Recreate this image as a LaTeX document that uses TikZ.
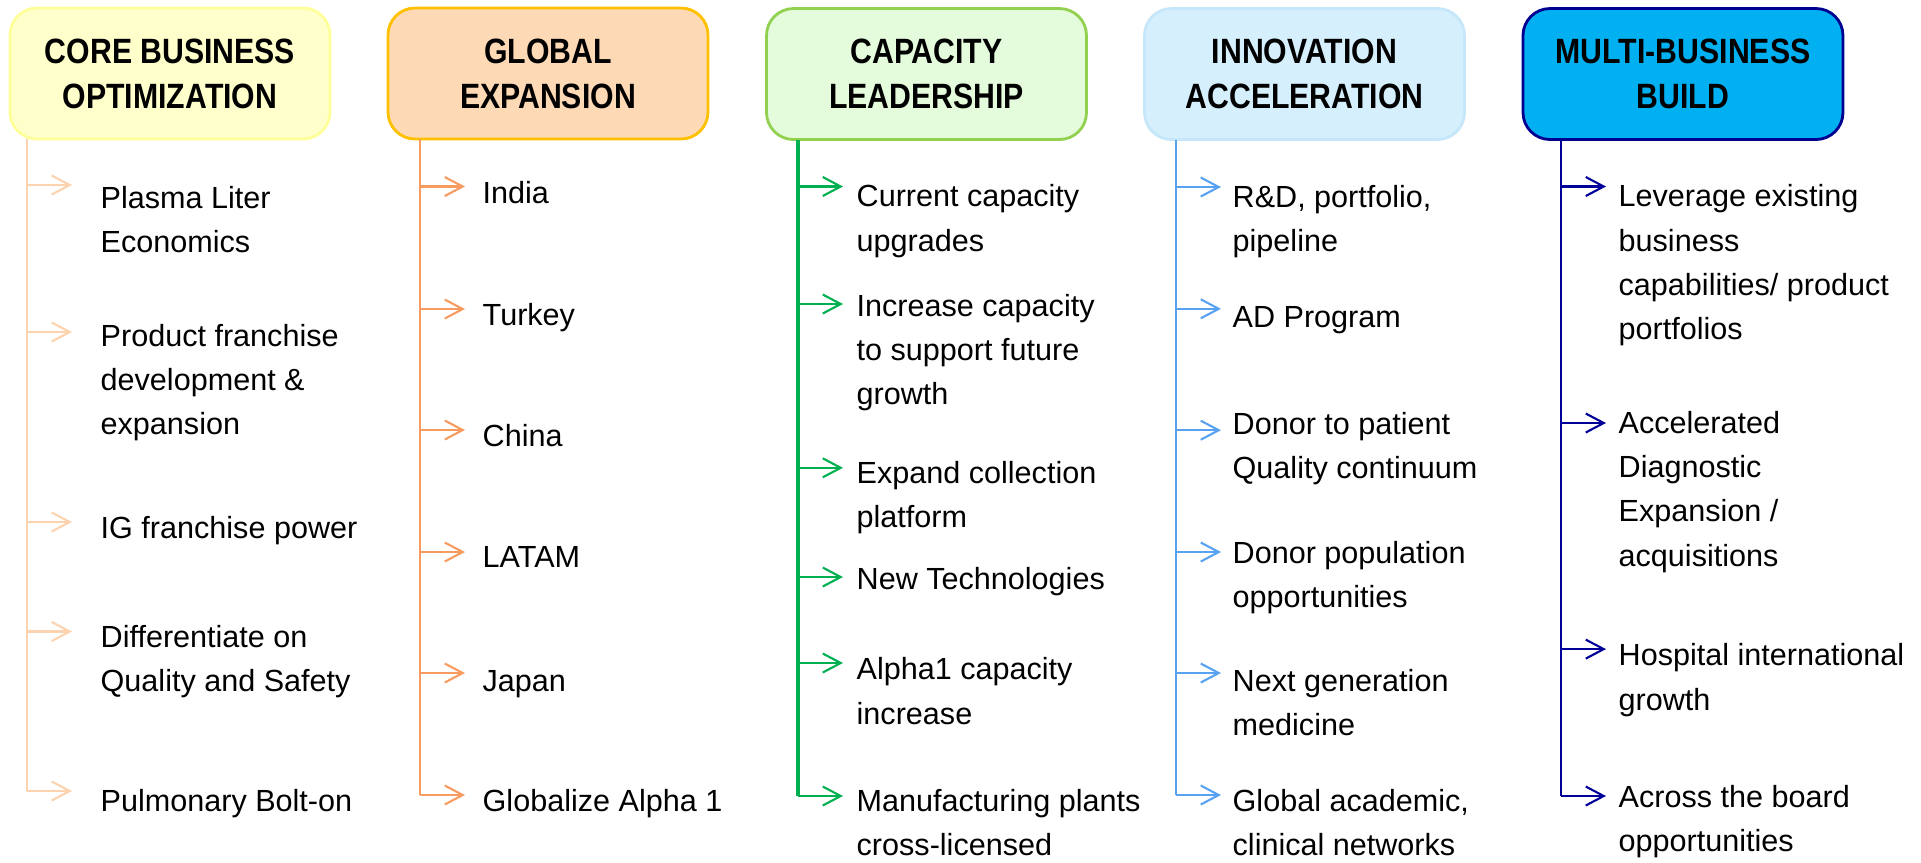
\documentclass[tikz,border=0pt]{standalone}
\usepackage{fontspec}
\setmainfont{Liberation Sans}
\newfontfamily\headfam[FakeStretch=0.86]{Liberation Sans}
\usetikzlibrary{arrows.meta}

\definecolor{coreFill}{HTML}{FFFFCC}
\definecolor{coreDraw}{HTML}{FFFF99}
\definecolor{coreLine}{HTML}{FCD3AE}
\definecolor{globFill}{HTML}{FDD9B5}
\definecolor{globDraw}{HTML}{FFC000}
\definecolor{globLine}{HTML}{F89B60}
\definecolor{capFill}{HTML}{E4FBDC}
\definecolor{capDraw}{HTML}{92D050}
\definecolor{capLine}{HTML}{00B050}
\definecolor{innoFill}{HTML}{D5EFFC}
\definecolor{innoDraw}{HTML}{C5E7F9}
\definecolor{innoLine}{HTML}{58A2F1}
\definecolor{multiFill}{HTML}{00B0F0}
\definecolor{multiDraw}{HTML}{000090}
\definecolor{multiLine}{HTML}{000099}

\newcommand{\headfont}{\headfam\bfseries\fontsize{10}{12.8}\selectfont}
\newcommand{\itemfont}{\fontsize{8.7}{12.6}\selectfont}
\newcommand{\itemstrut}{\rule{0pt}{2.85mm}}

\begin{document}
\begin{tikzpicture}[
    head/.style={draw, line width=0.8pt, rounded corners=0.27cm, minimum width=3.2cm, minimum height=1.31cm, inner sep=0pt, align=center, font=\headfont},
    item/.style={anchor=north west, inner sep=0pt, align=left, font=\itemfont},
    tip/.style={-{Straight Barb[length=1.8mm,width=1.9mm]}},
    trunkcore/.style={draw=coreLine, line width=0.6pt},
    trunkglob/.style={draw=globLine, line width=0.6pt},
    trunkcap/.style={draw=capLine, line width=0.6pt},
    trunkinno/.style={draw=innoLine, line width=0.6pt},
    trunkmulti/.style={draw=multiLine, line width=0.6pt}]
    \useasboundingbox (0,0) rectangle (19.21,-8.62);

    \node[head, fill=coreFill, draw=coreDraw] (core) at (1.70,-0.735) {CORE BUSINESS\\OPTIMIZATION};
    \node[head, fill=globFill, draw=globDraw] (glob) at (5.48,-0.735) {GLOBAL\\EXPANSION};
    \node[head, fill=capFill, draw=capDraw] (cap) at (9.265,-0.74) {CAPACITY\\LEADERSHIP};
    \node[head, fill=innoFill, draw=innoDraw] (inno) at (13.045,-0.74) {INNOVATION\\ACCELERATION};
    \node[head, fill=multiFill, draw=multiDraw] (multi) at (16.83,-0.74) {MULTI-BUSINESS\\BUILD};

    \coordinate (tcore) at (0.27,-1.39);
    \coordinate (tglob) at (4.20,-1.39);
    \coordinate (tcap) at (7.98,-1.40);
    \coordinate (tinno) at (11.76,-1.40);
    \coordinate (tmulti) at (15.61,-1.40);

    \draw[trunkcore] (tcore) -- ++(0,-6.52);
    \draw[trunkglob] (tglob) -- ++(0,-6.56);
    \draw[trunkcap, line width=0.9pt] (tcap) -- ++(0,-6.56);
    \draw[trunkinno] (tinno) -- ++(0,-6.55);
    \draw[trunkmulti] (tmulti) -- ++(0,-6.56);

    \node[item] (core1) at (1.00,-1.79) {\itemstrut Plasma Liter\\Economics};
    \node[item] (core2) at (1.00,-3.17) {\itemstrut Product franchise\\development \&\\expansion};
    \node[item] (core3) at (1.00,-5.09) {\itemstrut IG franchise power};
    \node[item] (core4) at (1.00,-6.18) {\itemstrut Differentiate on\\Quality and Safety};
    \node[item] (core5) at (1.00,-7.82) {\itemstrut Pulmonary Bolt-on};
    \draw[trunkcore, tip] (tcore |- core1.north) ++(0,-0.06) -- ++(0.45,0);
    \draw[trunkcore, tip] (tcore |- core2.north) ++(0,-0.15) -- ++(0.45,0);
    \draw[trunkcore, tip] (tcore |- core3.north) ++(0,-0.13) -- ++(0.45,0);
    \draw[trunkcore, tip] (tcore |- core4.north) ++(0,-0.135) -- ++(0.45,0);
    \draw[trunkcore, tip] (tcore |- core5.north) ++(0,-0.09) -- ++(0.45,0);

    \node[item] (glob1) at (4.82,-1.74) {\itemstrut India};
    \node[item] (glob2) at (4.82,-2.96) {\itemstrut Turkey};
    \node[item] (glob3) at (4.82,-4.17) {\itemstrut China};
    \node[item] (glob4) at (4.82,-5.385) {\itemstrut LATAM};
    \node[item] (glob5) at (4.82,-6.62) {\itemstrut Japan};
    \node[item] (glob6) at (4.82,-7.82) {\itemstrut Globalize Alpha 1};
    \draw[trunkglob, tip] (tglob |- glob1.north) ++(0,-0.125) -- ++(0.45,0);
    \draw[trunkglob, tip] (tglob |- glob2.north) ++(0,-0.13) -- ++(0.45,0);
    \draw[trunkglob, tip] (tglob |- glob3.north) ++(0,-0.13) -- ++(0.45,0);
    \draw[trunkglob, tip] (tglob |- glob4.north) ++(0,-0.135) -- ++(0.45,0);
    \draw[trunkglob, tip] (tglob |- glob5.north) ++(0,-0.11) -- ++(0.45,0);
    \draw[trunkglob, tip] (tglob |- glob6.north) ++(0,-0.13) -- ++(0.45,0);

    \node[item] (cap1) at (8.56,-1.775) {\itemstrut Current capacity\\upgrades};
    \node[item] (cap2) at (8.56,-2.87) {\itemstrut Increase capacity\\to support future\\growth};
    \node[item] (cap3) at (8.56,-4.538) {\itemstrut Expand collection\\platform};
    \node[item] (cap4) at (8.56,-5.60) {\itemstrut New Technologies};
    \node[item] (cap5) at (8.56,-6.505) {\itemstrut Alpha1 capacity\\increase};
    \node[item] (cap6) at (8.56,-7.824) {\itemstrut Manufacturing plants\\cross-licensed};
    \draw[trunkcap, tip] (tcap |- cap1.north) ++(0,-0.09) -- ++(0.45,0);
    \draw[trunkcap, tip] (tcap |- cap2.north) ++(0,-0.17) -- ++(0.45,0);
    \draw[trunkcap, tip] (tcap |- cap3.north) ++(0,-0.14) -- ++(0.45,0);
    \draw[trunkcap, tip] (tcap |- cap4.north) ++(0,-0.17) -- ++(0.45,0);
    \draw[trunkcap, tip] (tcap |- cap5.north) ++(0,-0.125) -- ++(0.45,0);
    \draw[trunkcap, tip] (tcap |- cap6.north) ++(0,-0.136) -- ++(0.45,0);

    \node[item] (inno1) at (12.32,-1.78) {\itemstrut R\&D, portfolio,\\pipeline};
    \node[item] (inno2) at (12.32,-2.978) {\itemstrut AD Program};
    \node[item] (inno3) at (12.32,-4.052) {\itemstrut Donor to patient\\Quality continuum};
    \node[item] (inno4) at (12.32,-5.34) {\itemstrut Donor population\\opportunities};
    \node[item] (inno5) at (12.32,-6.62) {\itemstrut Next generation\\medicine};
    \node[item] (inno6) at (12.32,-7.82) {\itemstrut Global academic,\\clinical networks};
    \draw[trunkinno, tip] (tinno |- inno1.north) ++(0,-0.09) -- ++(0.45,0);
    \draw[trunkinno, tip] (tinno |- inno2.north) ++(0,-0.11) -- ++(0.45,0);
    \draw[trunkinno, tip] (tinno |- inno3.north) ++(0,-0.25) -- ++(0.45,0);
    \draw[trunkinno, tip] (tinno |- inno4.north) ++(0,-0.18) -- ++(0.45,0);
    \draw[trunkinno, tip] (tinno |- inno5.north) ++(0,-0.11) -- ++(0.45,0);
    \draw[trunkinno, tip] (tinno |- inno6.north) ++(0,-0.13) -- ++(0.45,0);

    \node[item] (multi1) at (16.18,-1.775) {\itemstrut Leverage existing\\business\\capabilities/ product\\portfolios};
    \node[item] (multi2) at (16.18,-4.04) {\itemstrut Accelerated\\Diagnostic\\Expansion /\\acquisitions};
    \node[item] (multi3) at (16.18,-6.366) {\itemstrut Hospital international\\growth};
    \node[item] (multi4) at (16.18,-7.78) {\itemstrut Across the board\\opportunities};
    \draw[trunkmulti, tip] (tmulti |- multi1.north) ++(0,-0.09) -- ++(0.45,0);
    \draw[trunkmulti, tip] (tmulti |- multi2.north) ++(0,-0.19) -- ++(0.45,0);
    \draw[trunkmulti, tip] (tmulti |- multi3.north) ++(0,-0.125) -- ++(0.45,0);
    \draw[trunkmulti, tip] (tmulti |- multi4.north) ++(0,-0.18) -- ++(0.45,0);
\end{tikzpicture}
\end{document}
